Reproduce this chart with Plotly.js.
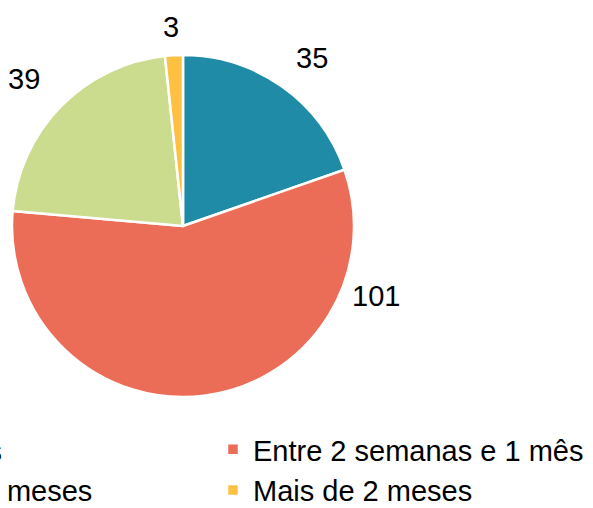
<!DOCTYPE html>
<html>
<head>
<meta charset="utf-8">
<script src="https://cdn.plot.ly/plotly-3.0.1.min.js"></script>
<style>
  html, body { margin: 0; padding: 0; width: 593px; height: 508px; overflow: hidden; background: #fff; }
  #chart { position: absolute; left: -300px; top: 0; width: 1000px; height: 560px; }
</style>
</head>
<body>
<div id="chart"></div>
<script>
// Data
const categories = ["Até 15 dias", "Entre 2 semanas e 1 mês", "Entre 1 e 2 meses", "Mais de 2 meses"];
const values = [35, 101, 39, 3];
const colors = ["#1F8BA6", "#EC6D57", "#CBDC8F", "#FDC040"];
// label placement (paper coords) for the value labels
const labelX = [0.6115, 0.676, 0.324, 0.4705];
const labelY = [0.8964, 0.4714, 0.8589, 0.9509];

const trace = {
  type: "pie",
  labels: categories,
  values: values,
  sort: false,
  direction: "clockwise",
  rotation: 0,
  textinfo: "none",
  hoverinfo: "label+value",
  marker: { colors: colors, line: { color: "#ffffff", width: 2.5 } },
  domain: { x: [0.312, 0.654], y: [0.29107, 0.90179] },
  showlegend: true
};

const annotations = values.map((v, i) => ({
  text: String(v),
  x: labelX[i], y: labelY[i],
  xref: "paper", yref: "paper",
  xanchor: "center", yanchor: "middle",
  showarrow: false,
  font: { family: "Liberation Sans, Arial, sans-serif", size: 29, color: "#000000" }
}));

const layout = {
  width: 1000, height: 560,
  margin: { l: 0, r: 0, t: 0, b: 0 },
  paper_bgcolor: "#ffffff",
  plot_bgcolor: "#ffffff",
  font: { family: "Liberation Sans, Arial, sans-serif", size: 29, color: "#000000" },
  showlegend: true,
  legend: {
    orientation: "h",
    x: 0.117, xanchor: "left",
    y: 0.2429, yanchor: "top",
    entrywidth: 351, entrywidthmode: "pixels",
    traceorder: "normal",
    font: { family: "Liberation Sans, Arial, sans-serif", size: 29, color: "#000000" },
    bgcolor: "rgba(0,0,0,0)"
  },
  annotations: annotations
};

Plotly.newPlot("chart", [trace], layout, { displayModeBar: false, staticPlot: true });
</script>
</body>
</html>
